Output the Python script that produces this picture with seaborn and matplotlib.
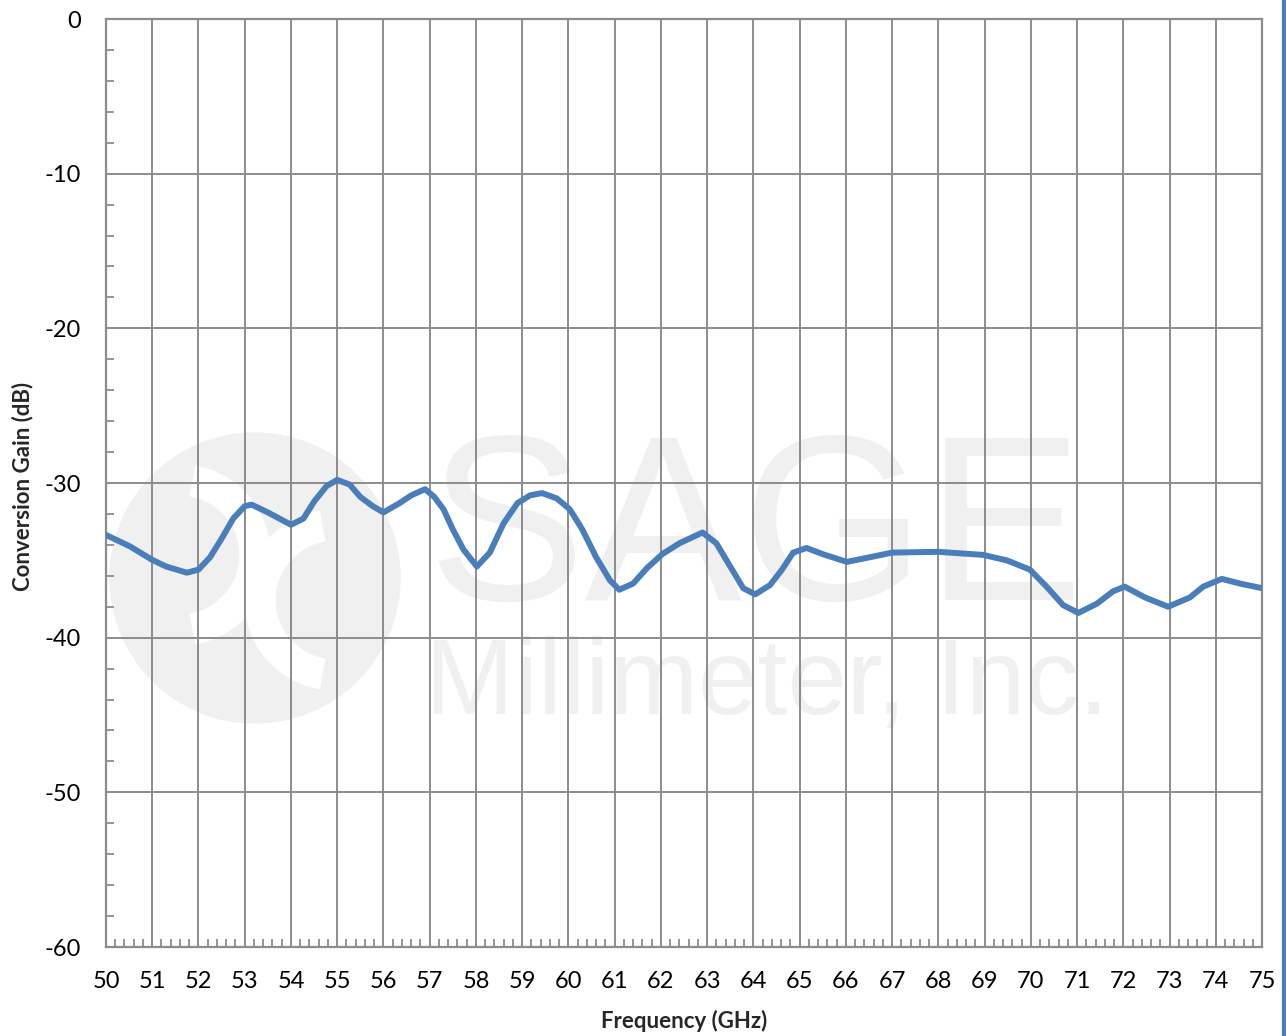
import pandas as pd
import seaborn as sns
import matplotlib.pyplot as plt
from matplotlib.patches import Ellipse, Wedge
from matplotlib.transforms import IdentityTransform
from matplotlib.ticker import MultipleLocator

# ============================
# Data
# ============================
freq = [50.0, 50.52, 51.0, 51.3, 51.75, 52.0, 52.25, 52.5, 52.75, 53.0, 53.15, 53.5,
        54.0, 54.27, 54.5, 54.77, 55.0, 55.27, 55.5, 55.77, 56.0, 56.35, 56.6, 56.9,
        57.1, 57.3, 57.5, 57.73, 58.02, 58.3, 58.6, 58.9, 59.17, 59.43, 59.75, 60.03,
        60.3, 60.6, 60.9, 61.1, 61.4, 61.7, 62.03, 62.4, 62.9, 63.2, 63.5, 63.78,
        64.04, 64.36, 64.62, 64.86, 65.15, 65.5, 66.02, 66.52, 67.0, 68.0, 68.97,
        69.48, 69.98, 70.34, 70.7, 71.03, 71.43, 71.78, 72.03, 72.47, 72.97, 73.44,
        73.73, 74.13, 74.52, 75.0]
gain = [-33.36, -34.1, -34.97, -35.4, -35.8, -35.6, -34.8, -33.6, -32.3, -31.5, -31.4, -31.9,
        -32.7, -32.3, -31.2, -30.2, -29.8, -30.1, -30.9, -31.5, -31.9, -31.3, -30.8, -30.4,
        -30.9, -31.7, -33.0, -34.3, -35.4, -34.5, -32.6, -31.3, -30.8, -30.65, -31.0, -31.7,
        -33.0, -34.8, -36.3, -36.9, -36.5, -35.5, -34.6, -33.9, -33.2, -33.9, -35.4, -36.8,
        -37.2, -36.6, -35.6, -34.5, -34.2, -34.6, -35.1, -34.8, -34.5, -34.45, -34.65,
        -35.0, -35.6, -36.7, -37.9, -38.4, -37.8, -37.0, -36.7, -37.4, -38.0, -37.4,
        -36.7, -36.2, -36.5, -36.8]

x_ticks = list(range(50, 76))
y_ticks = [0, -10, -20, -30, -40, -50, -60]

df = pd.DataFrame({"Frequency (GHz)": freq, "Conversion Gain (dB)": gain})

# ============================
# Figure
# ============================
sns.set_style("white")
plt.rcParams["font.family"] = ["Lato", "DejaVu Sans"]
plt.rcParams["axes.unicode_minus"] = False

W, H = 1286, 1036
fig = plt.figure(figsize=(W / 100, H / 100), dpi=100)
ax = fig.add_axes([106 / W, 1 - 947 / H, 1156 / W, 928 / H])

grid_c = "#8c8c8c"
line_c = "#4a7ebb"

# watermark (logo + company name), drawn in pixels
wm = "#f0f0f0"
px = IdentityTransform()
ax.add_patch(Ellipse((255, H - 578), 290, 290, transform=px, color=wm, zorder=0.2))
ax.add_patch(Wedge((335, H - 600), 90, 100, 260, width=30, transform=px,
                   color="white", zorder=0.3))
ax.add_patch(Wedge((180, H - 555), 90, 280, 80, width=30, transform=px,
                   color="white", zorder=0.3))
ax.text(64.04, -33.6, "SAGE", fontsize=170, color=wm, family="Liberation Sans",
        ha="center", va="center", zorder=0.2)
ax.text(64.3, -43.1, "Millimeter, Inc.", fontsize=77, color=wm, family="Liberation Sans",
        ha="center", va="center", zorder=0.2)

sns.lineplot(data=df, x="Frequency (GHz)", y="Conversion Gain (dB)", ax=ax,
             color=line_c, linewidth=4.3, sort=True, zorder=3,
             solid_joinstyle="round", solid_capstyle="round")

ax.set_xlim(50, 75)
ax.set_ylim(-60, 0)
ax.set_xticks(x_ticks)
ax.set_yticks(y_ticks)
ax.xaxis.set_minor_locator(MultipleLocator(0.2))
ax.yaxis.set_minor_locator(MultipleLocator(2))

ax.grid(True, which="major", color=grid_c, linewidth=1.4)
ax.set_axisbelow(True)
for s in ax.spines.values():
    s.set_color(grid_c)
    s.set_linewidth(1.6)

ax.tick_params(axis="both", which="major", length=0, labelsize=17, labelcolor="black")
ax.tick_params(axis="y", which="major", pad=18)
ax.tick_params(axis="x", which="major", pad=17)
ax.tick_params(axis="x", which="minor", direction="in", length=6, width=1.3,
               color=grid_c, bottom=True, top=False)
ax.tick_params(axis="y", which="minor", direction="in", length=6, width=1.3,
               color=grid_c, left=True, right=False)

ax.set_xlabel("")
ax.set_ylabel("")
fig.text(684 / W, 1 - 1021 / H, "Frequency (GHz)", fontsize=16, fontweight="bold",
         ha="center", va="center")
fig.text(23 / W, 1 - 486 / H, "Conversion Gain (dB)", fontsize=16, fontweight="bold",
         ha="center", va="center", rotation=90)

# blue bar at the right edge
fig.add_artist(plt.Line2D([0.9985, 0.9985], [0, 1], transform=fig.transFigure,
                          color=line_c, linewidth=3))

fig.savefig("out.png", dpi=100)
